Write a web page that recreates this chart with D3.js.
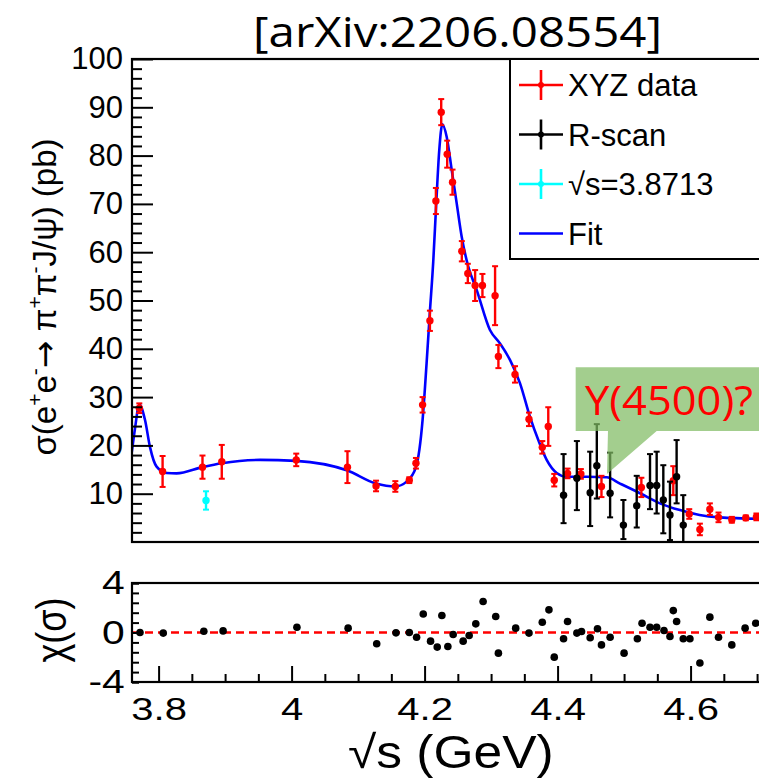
<!DOCTYPE html>
<html>
<head>
<meta charset="utf-8">
<script src="https://cdn.jsdelivr.net/npm/d3@7"></script>
<style>
  body { margin: 0; background: #fff; }
  svg { display: block; font-family: "Liberation Sans", Arial, sans-serif; }
</style>
</head>
<body>
<div id="chart"></div>
<script>
// XYZ data (red)
const xyzE = [3.771, 3.806, 3.866, 3.895, 4.007, 4.084, 4.127, 4.156, 4.177, 4.187, 4.197, 4.208, 4.217, 4.225, 4.234, 4.242, 4.256, 4.265, 4.276, 4.287, 4.306, 4.311, 4.336, 4.357, 4.377, 4.386, 4.395, 4.415, 4.435, 4.466, 4.526, 4.574, 4.598, 4.614, 4.629, 4.642, 4.662, 4.683, 4.699];
const xyzSigma = [27.7, 14.6, 15.5, 16.6, 17.0, 15.5, 11.6, 11.5, 12.8, 16.3, 28.4, 45.8, 70.6, 89.0, 80.3, 74.5, 60.2, 55.6, 53.1, 53.1, 51.0, 38.4, 34.7, 25.4, 19.6, 23.9, 12.8, 14.2, 14.1, 11.5, 11.3, 12.7, 5.8, 2.6, 6.8, 5.1, 4.6, 5.0, 5.2];
const xyzErr = [1.0, 3.2, 2.4, 3.5, 1.3, 3.3, 1.1, 1.1, 0.6, 1.1, 1.6, 2.1, 2.7, 2.7, 2.8, 2.6, 2.1, 2.0, 3.2, 2.4, 6.1, 2.4, 1.7, 1.4, 1.3, 4.0, 1.3, 1.0, 1.0, 2.2, 2.0, 3.0, 1.0, 1.2, 1.2, 1.0, 0.6, 0.5, 0.7];

// R-scan (black)
const rsE = [4.409, 4.429, 4.449, 4.459, 4.479, 4.499, 4.519, 4.539, 4.549, 4.559, 4.569, 4.579, 4.589];
const rsSigma = [9.7, 13.2, 10.2, 15.8, 10.1, 3.5, 7.5, 11.7, 11.7, 8.7, 5.6, 13.5, 3.5];
const rsErrLo = [5.8, 6.6, 6.9, 6.8, 5.0, 2.9, 4.5, 4.9, 5.8, 6.9, 5.2, 5.5, 4.0];
const rsErrHi = [8.5, 7.7, 8.5, 8.6, 8.4, 5.2, 6.2, 6.5, 7.0, 7.2, 6.9, 7.6, 6.2];

// sqrt(s)=3.8713 point (cyan)
const cyanE = [3.8713];
const cyanSigma = [8.6];
const cyanErr = [1.9];

// Fit curve
const fitE = [3.7595, 3.7645, 3.771, 3.7795, 3.787, 3.797, 3.812, 3.827, 3.866, 3.895, 3.9525, 4.0066, 4.084, 4.127, 4.156, 4.173, 4.187, 4.197, 4.203, 4.208, 4.213, 4.2175, 4.222, 4.2267, 4.2332, 4.2408, 4.2483, 4.2558, 4.2657, 4.2783, 4.2983, 4.3134, 4.3284, 4.3434, 4.3585, 4.371, 4.3836, 4.3986, 4.4137, 4.4437, 4.4739, 4.4938, 4.5239, 4.554, 4.584, 4.6135, 4.644, 4.705];
const fitSigma = [18.4, 23.5, 28.5, 25.3, 19.7, 15.6, 14.3, 14.2, 15.5, 16.3, 17.0, 16.8, 14.8, 12.1, 11.5, 12.5, 15.5, 25.3, 37.0, 47.7, 58.0, 70.0, 81.0, 86.5, 83.9, 77.0, 70.1, 63.2, 57.0, 52.2, 43.9, 41.1, 37.7, 32.9, 25.9, 21.1, 17.0, 14.3, 13.5, 13.5, 13.4, 12.1, 10.1, 8.0, 6.6, 5.6, 5.1, 4.8];

// residuals chi(sigma)
const resE = [3.772, 3.807, 3.868, 3.897, 4.008, 4.085, 4.128, 4.157, 4.177, 4.188, 4.198, 4.209, 4.219, 4.226, 4.235, 4.243, 4.258, 4.267, 4.277, 4.288, 4.307, 4.311, 4.337, 4.357, 4.377, 4.387, 4.395, 4.409, 4.415, 4.429, 4.436, 4.449, 4.46, 4.466, 4.479, 4.5, 4.52, 4.527, 4.539, 4.549, 4.56, 4.569, 4.574, 4.579, 4.589, 4.599, 4.614, 4.629, 4.642, 4.662, 4.682, 4.698];
const resChi = [0.0, -0.05, 0.1, 0.13, 0.43, 0.35, -0.91, -0.03, 0.0, -0.38, 1.5, -0.7, -1.18, 1.37, -1.13, -0.16, -0.7, -0.24, 0.7, 2.5, 1.29, -1.67, 0.35, -0.05, 0.83, 1.83, -1.99, -0.51, 0.89, -0.05, 0.08, -0.43, 0.3, -1.0, -0.38, -1.67, -0.51, 0.75, 0.43, 0.43, 0.16, -0.32, 1.77, 0.89, -0.51, -0.51, -2.47, 1.24, -0.38, -1.0, 0.35, 0.75];

// ticks
const xMajor = [3.8, 4, 4.2, 4.4, 4.6];
const yMajor = [10, 20, 30, 40, 50, 60, 70, 80, 90, 100];
const resMajor = [-4, 0, 4];

const legendLabels = ["XYZ data", "R-scan", "\u221As=3.8713", "Fit"];
const legendColors = ["#ff0000", "#000000", "#00ffff", "#0000ff"];

const W = 759, H = 778;
const svg = d3.select("#chart").append("svg").attr("width", W).attr("height", H);

const x = d3.scaleLinear().domain([3.76, 4.705]).range([132, 760.4]);
const y = d3.scaleLinear().domain([0, 100]).range([542, 59]);
const yr = d3.scaleLinear().domain([-4, 4]).range([682, 583]);

// clip for main pad
svg.append("defs").append("clipPath").attr("id", "clipMain")
  .append("rect").attr("x", 132).attr("y", 59).attr("width", 640).attr("height", 483);

// title
svg.append("text")
  .attr("x", 253).attr("y", 47)
  .attr("textLength", 409).attr("lengthAdjust", "spacingAndGlyphs")
  .style("font-family", "'Open Sans', sans-serif")
  .style("font-size", "42px")
  .text("[arXiv:2206.08554]");

// ---------- main pad ----------
const main = svg.append("g");

// fit line
const line = d3.line().x(d => x(d[0])).y(d => y(d[1])).curve(d3.curveMonotoneX);
main.append("path")
  .attr("clip-path", "url(#clipMain)")
  .attr("d", line(fitE.map((e, i) => [e, fitSigma[i]])))
  .attr("fill", "none").attr("stroke", "#0000ff").attr("stroke-width", 2.6);

function drawPoints(E, V, lo, hi, color, r) {
  const g = main.append("g").attr("clip-path", "url(#clipMain)");
  const pts = E.map((e, i) => ({e: e, v: V[i], lo: lo[i], hi: hi[i]}));
  const grp = g.selectAll(null).data(pts).join("g");
  grp.append("line")
    .attr("x1", d => x(d.e)).attr("x2", d => x(d.e))
    .attr("y1", d => y(d.v - d.lo)).attr("y2", d => y(d.v + d.hi))
    .attr("stroke", color).attr("stroke-width", 2.4);
  grp.append("line")
    .attr("x1", d => x(d.e) - 3).attr("x2", d => x(d.e) + 3)
    .attr("y1", d => y(d.v - d.lo)).attr("y2", d => y(d.v - d.lo))
    .attr("stroke", color).attr("stroke-width", 2);
  grp.append("line")
    .attr("x1", d => x(d.e) - 3).attr("x2", d => x(d.e) + 3)
    .attr("y1", d => y(d.v + d.hi)).attr("y2", d => y(d.v + d.hi))
    .attr("stroke", color).attr("stroke-width", 2);
  grp.append("circle")
    .attr("cx", d => x(d.e)).attr("cy", d => y(d.v)).attr("r", r)
    .attr("fill", color);
}
drawPoints(xyzE, xyzSigma, xyzErr, xyzErr, "#ff0000", 3.7);
drawPoints(rsE, rsSigma, rsErrLo, rsErrHi, "#000000", 3.7);
drawPoints(cyanE, cyanSigma, cyanErr, cyanErr, "#00ffff", 3.7);

// y axis main
const yAx = svg.append("g").attr("transform", "translate(132,0)")
  .call(d3.axisLeft(y).tickValues(yMajor).tickSizeInner(-21).tickSizeOuter(0).tickPadding(9).tickFormat(d => d));
yAx.select(".domain").remove();
yAx.selectAll("line").attr("stroke", "#000").attr("stroke-width", 2);
yAx.selectAll("text").style("font-size", "31px").attr("fill", "#000").attr("font-family", "'Liberation Sans', Arial, sans-serif");
const yMin = svg.append("g").attr("transform", "translate(132,0)")
  .call(d3.axisLeft(y).tickValues(d3.range(2, 100, 2).filter(v => v % 10 !== 0)).tickSizeInner(-10).tickSizeOuter(0).tickFormat(""));
yMin.select(".domain").remove();
yMin.selectAll("line").attr("stroke", "#000").attr("stroke-width", 2);

// main frame
svg.append("rect").attr("x", 132).attr("y", 59).attr("width", 640).attr("height", 483)
  .attr("fill", "none").attr("stroke", "#000").attr("stroke-width", 2.2);

// y title
svg.append("text")
  .attr("transform", "translate(56,297) rotate(-90)")
  .attr("text-anchor", "middle")
  .style("font-size", "33px")
  .call(t => {
    t.append("tspan").text("\u03C3(e");
    t.append("tspan").attr("dy", -14).style("font-size", "21px").text("+");
    t.append("tspan").attr("dy", 14).text("e");
    t.append("tspan").attr("dy", -14).style("font-size", "21px").text("-");
    t.append("tspan").attr("dy", 14).style("font-family", "'DejaVu Sans', sans-serif").text("\u2192");
    t.append("tspan").text(" \u03C0");
    t.append("tspan").attr("dy", -14).style("font-size", "21px").text("+");
    t.append("tspan").attr("dy", 14).text("\u03C0");
    t.append("tspan").attr("dy", -14).style("font-size", "21px").text("-");
    t.append("tspan").attr("dy", 14).text("J/\u03C8) (pb)");
  });

// legend
const leg = svg.append("g");
leg.append("rect").attr("x", 510).attr("y", 59).attr("width", 300).attr("height", 200)
  .attr("fill", "#fff").attr("stroke", "#000").attr("stroke-width", 2);
legendLabels.forEach((lab, i) => {
  const cy = 85 + i * 49.5;
  const c = legendColors[i];
  leg.append("line").attr("x1", 519).attr("x2", 563).attr("y1", cy).attr("y2", cy)
    .attr("stroke", c).attr("stroke-width", 2.6);
  if (i < 3) {
    leg.append("line").attr("x1", 541).attr("x2", 541).attr("y1", cy - 15).attr("y2", cy + 15)
      .attr("stroke", c).attr("stroke-width", 2.6);
    leg.append("circle").attr("cx", 541).attr("cy", cy).attr("r", 3).attr("fill", c);
  }
  leg.append("text").attr("x", 568).attr("y", cy + 11).style("font-size", "31px").text(lab);
});

// Y(4500)? callout
const box = {e0: 4.4272, e1: 4.8, top: 36.2, bot: 23.0, b0: 4.4758, b1: 4.549, tipE: 4.4743, tipV: 14.1};
svg.append("path")
  .attr("d", "M" + x(box.e0) + "," + y(box.top) + "L" + x(box.e1) + "," + y(box.top) +
    "L" + x(box.e1) + "," + y(box.bot) + "L" + x(box.b1) + "," + y(box.bot) +
    "L" + x(box.tipE) + "," + y(box.tipV) + "L" + x(box.b0) + "," + y(box.bot) +
    "L" + x(box.e0) + "," + y(box.bot) + "Z")
  .attr("fill", "#80bb63").attr("fill-opacity", 0.72);
svg.append("text")
  .attr("x", 585).attr("y", 415)
  .attr("textLength", 168).attr("lengthAdjust", "spacingAndGlyphs")
  .style("font-family", "'Open Sans', sans-serif")
  .style("font-size", "41px").attr("fill", "#ff0000")
  .text("Y(4500)?");

// ---------- residual pad ----------
const res = svg.append("g");
res.append("line").attr("x1", 132).attr("x2", 760).attr("y1", yr(0)).attr("y2", yr(0))
  .attr("stroke", "#ff0000").attr("stroke-width", 2.5).attr("stroke-dasharray", "8,5");
res.selectAll(null).data(resE.map((e, i) => [e, resChi[i]])).join("circle")
  .attr("cx", d => x(d[0])).attr("cy", d => yr(d[1])).attr("r", 3.8).attr("fill", "#000");

const ryAx = svg.append("g").attr("transform", "translate(132,0)")
  .call(d3.axisLeft(yr).tickValues(resMajor).tickSizeInner(-7).tickSizeOuter(0).tickPadding(6).tickFormat(d => d));
ryAx.select(".domain").remove();
ryAx.selectAll("line").attr("stroke", "#000").attr("stroke-width", 2);
ryAx.selectAll("text").style("font-size", "34px").attr("fill", "#000").attr("transform", "scale(1.2,1)");
const ryMin = svg.append("g").attr("transform", "translate(132,0)")
  .call(d3.axisLeft(yr).tickValues(d3.range(-4, 4.01, 0.8)).tickSizeInner(-7).tickSizeOuter(0).tickFormat(""));
ryMin.select(".domain").remove();
ryMin.selectAll("line").attr("stroke", "#000").attr("stroke-width", 2);

const xAx = svg.append("g").attr("transform", "translate(0,682)")
  .call(d3.axisBottom(x).tickValues(xMajor).tickSizeInner(-16).tickSizeOuter(0).tickPadding(15).tickFormat(d => d));
xAx.select(".domain").remove();
xAx.selectAll("line").attr("stroke", "#000").attr("stroke-width", 2);
xAx.selectAll("text").style("font-size", "32px").attr("fill", "#000").attr("transform", "scale(1.25,1)");
const xMin = svg.append("g").attr("transform", "translate(0,682)")
  .call(d3.axisBottom(x).tickValues(d3.range(3.85, 4.71, 0.05).filter(v => Math.abs(v * 5 - Math.round(v * 5)) > 0.01)).tickSizeInner(-8).tickSizeOuter(0).tickFormat(""));
xMin.select(".domain").remove();
xMin.selectAll("line").attr("stroke", "#000").attr("stroke-width", 2);

svg.append("rect").attr("x", 132).attr("y", 583).attr("width", 640).attr("height", 99)
  .attr("fill", "none").attr("stroke", "#000").attr("stroke-width", 2.2);

// residual y title
svg.append("text")
  .attr("transform", "translate(66,630) scale(1.2,1) rotate(-90)")
  .attr("text-anchor", "middle")
  .style("font-size", "36px")
  .text("\u03C7(\u03C3)");

// x title
svg.append("text")
  .attr("transform", "translate(348,768) scale(1.12,1)")
  .style("font-size", "46px")
  .text("\u221As (GeV)");
</script>
</body>
</html>
